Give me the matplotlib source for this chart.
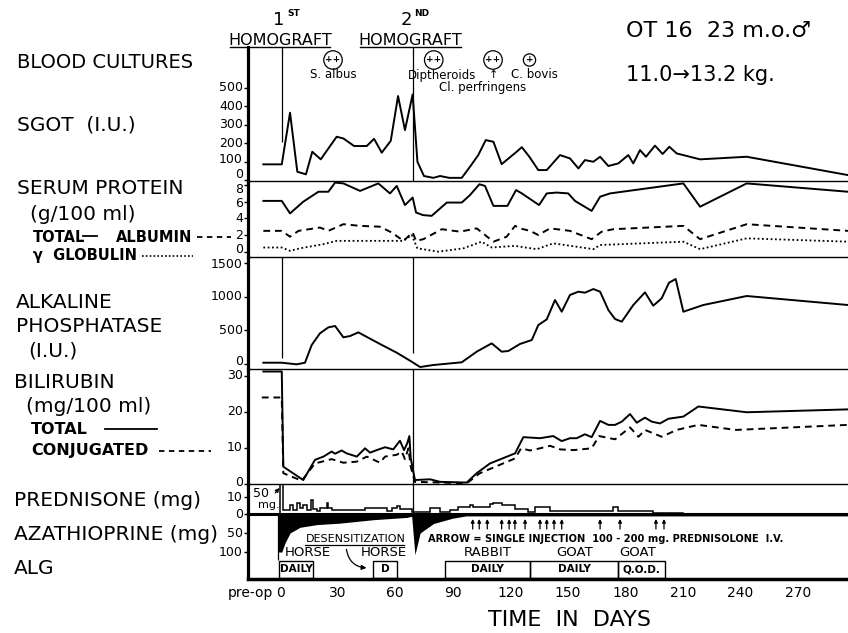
import numpy as np
import matplotlib.pyplot as plt
from matplotlib.patches import Rectangle, FancyArrowPatch
from matplotlib.lines import Line2D
from matplotlib.transforms import offset_copy

# ---- data (day, value) ----
sgot_day = [-8.7, 0.9, 5.2, 9.0, 13.5, 16.8, 21.2, 29.5, 33, 38.6, 45.2, 49, 53, 57.7, 61.5, 65.1,
            69.1, 71.6, 75, 79.9, 83.4, 88.2, 94.7, 99, 103.3, 107.2, 111.2, 115.5, 123.3, 126, 130,
            134.6, 139, 145.9, 151.1, 155.5, 158.9, 163.3, 166.8, 171.1, 176.3, 181.5, 184.1, 187.6,
            190.7, 195.4, 199.4, 202.9, 206.7, 218.9, 243.2, 296]
sgot = [85, 85, 364, 45, 31, 153, 112, 234, 225, 184, 184, 223, 148, 212, 454, 270,
        463, 99, 22, 12, 22, 12, 12, 72, 135, 216, 207, 86, 153, 178, 125,
        54, 54, 135, 117, 63, 108, 99, 126, 76, 90, 135, 90, 162,
        126, 186, 141, 180, 144, 112, 126, 27]

prot_day = [-8.7, 0.9, 5.2, 12.1, 20, 25.2, 28.7, 33, 41.7, 51.2, 57.3, 60.8, 65.1, 69.1, 70.9, 74.4,
            79, 86.9, 94.7, 99, 103.9, 106.8, 111.2, 118.5, 123, 126, 135, 139, 144.2, 150.2, 153.7,
            162.4, 166.8, 172, 210.2, 218.9, 243.2, 296]
prot_total = [6.1, 6.1, 4.6, 6.0, 7.2, 7.2, 8.3, 8.2, 7.3, 8.2, 7.0, 7.9, 5.6, 6.5, 4.7, 4.4,
              4.3, 5.9, 5.9, 6.8, 8.1, 7.9, 5.5, 5.5, 7.4, 7.0, 5.6, 7.0, 7.1, 7.0, 6.1,
              4.9, 6.6, 7.0, 8.2, 5.4, 8.2, 7.2]

alb_day = [-8.7, 0.9, 5.2, 9.6, 20.8, 25.2, 33, 41.7, 52.1, 58.2, 64.3, 69.1, 70.9, 74.7, 84.3, 93.8,
           102.5, 111.2, 118.1, 122.5, 125, 130.3, 134.6, 140.7, 151.1, 162.4, 167.6, 173.7, 210.2,
           218.9, 243.2, 296]
albumin = [2.5, 2.5, 1.8, 2.5, 2.9, 2.5, 3.3, 3.1, 3.0, 2.3, 1.3, 2.3, 1.3, 1.5, 2.7, 2.4,
           2.8, 1.2, 1.8, 3.1, 2.8, 2.5, 2.0, 2.8, 2.5, 1.5, 2.4, 2.7, 3.1,
           1.5, 3.3, 2.5]

glob_day = [-8.7, 0.9, 5.2, 10.4, 22.6, 29.5, 40, 55.6, 64.3, 68.6, 71.6, 82.5, 95.5, 105, 110.3,
            122.5, 125, 133.8, 142.4, 163.3, 166.8, 210.2, 218.9, 243.2, 296]
globulin = [0.5, 0.5, 0.1, 0.4, 0.9, 1.3, 1.3, 1.3, 1.3, 2.0, 0.4, 0.0, 0.4, 1.2, 0.5,
            0.7, 0.6, 0.3, 1.0, 0.3, 0.8, 1.2, 0.3, 1.6, 1.2]

alk_day = [-8.7, 0.9, 8.7, 13, 16.5, 20.8, 25.2, 28.7, 33, 36.5, 40.8, 52.1, 60.8, 68.6, 73,
           79.9, 94.7, 102.5, 110.3, 115.5, 119, 125, 131.2, 134.6, 139, 143.3, 146.8, 151.1, 155.5,
           158.9, 163.3, 166.8, 171.1, 174.6, 178.1, 184.1, 190.2, 194.5, 198.9, 202.7, 206.2, 210.2,
           220.6, 243.2, 296]
alk = [24, 24, 0, 24, 285, 458, 546, 566, 399, 418, 472, 300, 172, 39, -40,
       -10, 30, 187, 310, 187, 197, 300, 359, 580, 664, 950, 777, 1024, 1073,
       1058, 1112, 1073, 802, 669, 630, 876, 1063, 866, 975, 1205, 1260, 777,
       876, 1009, 876]

bili_day = [-8.7, 0.9, 1.7, 12.1, 18.2, 22.6, 26.9, 28.7, 32.1, 34.7, 40, 44.3, 46.9, 50.4, 54.7,
            59, 62.5, 64.6, 66.3, 67.4, 68.1, 70.3, 78.2, 83.4, 97.3, 102.5, 109.4, 122.5, 126.8,
            135.5, 142.4, 146.8, 151.1, 154.6, 158.9, 162.4, 166.8, 171.1, 174.6, 178.1, 182.4,
            185.9, 190.2, 193.7, 198, 202.4, 210.2, 218, 243.2, 296]
bili_total = [31.2, 31.2, 4.8, 1.1, 6.7, 7.6, 9.0, 8.4, 9.3, 8.5, 7.6, 9.9, 8.7, 9.4, 10.2,
              9.6, 12.0, 9.4, 11.3, 13.3, 7.2, 1.1, 1.3, 0.6, 0.4, 3.0, 5.7, 8.5, 13.0,
              12.7, 13.3, 11.9, 12.7, 12.7, 13.8, 13.0, 17.5, 16.4, 16.4, 17.3, 19.4,
              17.0, 18.4, 17.3, 16.8, 18.1, 18.7, 21.5, 19.9, 20.7]

conj_day = [-9.5, 0.9, 1.7, 11.3, 18.2, 26.9, 33, 40, 45.2, 52.1, 54.7, 60.8, 63.4, 65.1, 66.9,
            68.1, 70.3, 97.3, 104.2, 122.5, 125.6, 130.3, 135.5, 140.7, 146, 153, 162.4, 166.3,
            174.6, 182.4, 186.8, 190.2, 198.9, 206.7, 218, 237.5, 296]
bili_conj = [24.0, 24.0, 3.0, 0.9, 5.7, 6.9, 5.9, 6.2, 7.6, 5.9, 7.6, 8.1, 9.0, 6.9, 9.9,
             4.8, 0.6, 0.2, 3.0, 7.1, 9.9, 9.3, 9.9, 10.6, 9.6, 9.4, 9.9, 13.3,
             12.4, 15.7, 13.1, 15.0, 13.1, 15.0, 16.4, 15.0, 16.4]

pred_edges = [0, 1.7, 5.2, 6.6, 8.7, 10.4, 12.2, 13.9, 16.2, 17.4, 19.5, 20.8, 24.3, 25.2, 26.9,
              29.5, 44.3, 55.6, 58.2, 60.8, 62.5, 68.6, 78.0, 83.4, 88.6, 92.9, 99.0, 100.7, 103.9,
              109.4, 111.2, 115.5, 122.5, 129.4, 132.9, 140.7, 173.7, 176.3, 194.5, 210]
pred_mg = [50, 2.5, 5.5, 2.5, 6.3, 3.5, 5.5, 2.5, 8.4, 3.0, 1.6, 3.5, 6.3, 3.5,
           2.5, 2.5, 3.5, 1.6, 3.5, 4.5, 3.0, 1.4, 3.4, 1.4, 2.4, 3.9, 5.3, 3.9,
           4.3, 5.9, 6.7, 5.3, 2.7, 1.4, 4.3, 2.0, 4.3, 2.0, 0.8]

aza_day = [-0.9, 0.9, 2.6, 5.2, 10.4, 19.1, 31.3, 48.6, 66.0, 68.6, 70.3, 73.0, 80.0, 90.0, 97.0, 110.0, 296]
aza_mg = [100, 100, 76, 50, 35, 28, 24, 15, 9, 6, 107, 50, 25, 11, 5, 5, 5]

inj_day = [100.4, 103.8, 108, 115.5, 119.4, 122.4, 127.7, 135.5, 139, 142.8, 146.8, 166.8, 177.2, 195.9, 200.1]

alg_start = [-0.5, 48.5, 86, 130.3, 176.1]
alg_end = [17.2, 61, 130.3, 176.1, 200.6]
alg_sched = ['DAILY', 'D', 'DAILY', 'DAILY', 'Q.O.D.']
alg_src = ['HORSE', 'HORSE', 'RABBIT', 'GOAT', 'GOAT']

culture_day = [27.6, 80.1, 111, 130]
culture_mark = ['++', '++', '++', '+']
culture_name = ['S. albus', 'Diptheroids', 'Cl. perfringens', 'C. bovis']

graft_day = [1.0, 69.3]

xtick_days = [-15.5, 0, 30, 60, 90, 120, 150, 180, 210, 240, 270]
xtick_labels = ['pre-op', '0', '30', '60', '90', '120', '150', '180', '210', '240', '270']

# ---- layout helpers (pixel based) ----
W, H = 848, 633
X0, X1 = -16.7, 296
fig = plt.figure(figsize=(W / 100, H / 100), dpi=100)


def ftext(x, y, s, **kw):
    kw.setdefault('va', 'center')
    kw.setdefault('ha', 'left')
    fig.text(x / W, 1 - y / H, s, **kw)


def fline(x0, x1, y, **kw):
    fig.add_artist(Line2D([x0 / W, x1 / W], [1 - y / H, 1 - y / H], color='k', **kw))


def panel(top, bot, ylim, yticks, shifts, bottom_lw=1.0):
    ax = fig.add_axes([248 / W, 1 - bot / H, 600 / W, (bot - top) / H])
    ax.set_xlim(X0, X1)
    ax.set_ylim(*ylim)
    ax.set_yticks(yticks)
    ax.spines['top'].set_visible(False)
    ax.spines['right'].set_visible(False)
    ax.spines['left'].set_linewidth(2.3)
    ax.spines['bottom'].set_linewidth(bottom_lw)
    ax.tick_params(axis='x', bottom=False, labelbottom=False)
    ax.tick_params(axis='y', length=3, width=1, labelleft=False)
    ax.patch.set_alpha(0)
    # tick labels drawn by hand so the crowded ones at panel joins can be nudged apart
    base = ax.get_yaxis_transform()
    for v, dy in zip(yticks, shifts):
        tr = offset_copy(base, fig=fig, x=-5, y=-dy, units='dots')
        ax.text(0, v, str(v), transform=tr, ha='right', va='center', fontsize=9)
    return ax


LW = 1.4
ax_sg = panel(47, 181, (-5, 719), [0, 100, 200, 300, 400, 500], [-6, -2, 0, 0, 0, 0])
ax_pr = panel(181, 257, (-0.64, 8.49), [0, 2, 4, 6, 8], [-2, 0, 0, 2, 4])
ax_ap = panel(257, 369, (-69, 1585), [0, 500, 1000, 1500], [-3, 0, 0, 2])
ax_bi = panel(369, 484, (0, 31.9), [0, 10, 20, 30], [-2, 0, 0, 0])
ax_pd = panel(484, 514, (0, 17.6), [0, 10], [0, 1], bottom_lw=2.2)
ax_az = panel(514, 579, (171, 0), [50, 100], [0, 0], bottom_lw=2.5)

# SGOT
ax_sg.plot(sgot_day, sgot, color='k', lw=LW)
ax_sg.vlines(graft_day[0], 205, 719, color='k', lw=0.9)
ax_sg.vlines(graft_day[1], -5, 719, color='k', lw=0.9)

# serum protein
ax_pr.plot(prot_day, prot_total, color='k', lw=LW)
ax_pr.plot(alb_day, albumin, color='k', lw=LW, ls=(0, (3.5, 2.5)))
ax_pr.plot(glob_day, globulin, color='k', lw=1.3, ls=(0, (1, 1.4)))

# alkaline phosphatase
ax_ap.plot(alk_day, alk, color='k', lw=LW)
ax_ap.vlines(graft_day[0], 100, 1585, color='k', lw=0.9)
ax_ap.vlines(graft_day[1], 170, 1585, color='k', lw=0.9)

# bilirubin
ax_bi.plot(bili_day, bili_total, color='k', lw=LW)
ax_bi.plot(conj_day, bili_conj, color='k', lw=LW, ls=(0, (3.5, 2.5)))
ax_bi.vlines(graft_day[1], 0, 31.9, color='k', lw=0.9)

# prednisone
ax_pd.stairs(pred_mg, pred_edges, color='k', lw=1.1, baseline=0)
ax_pd.vlines(graft_day[1], 0, 17.6, color='k', lw=0.9)
ax_pd.annotate('', xy=(0.6, 16.5), xytext=(-3.5, 11),
               arrowprops=dict(arrowstyle='-|>', color='k', lw=0.8, mutation_scale=6))
ax_pd.text(-14, 12, '50', fontsize=9, va='center')
ax_pd.text(-11.5, 5, 'mg.', fontsize=8, va='center')

# azathioprine (drawn downward from zero)
ax_az.fill_between(aza_day, 0, aza_mg, color='k', lw=0)
ax_az.vlines(-0.9, 0, 121, color='k', lw=0.9)
ax_az.set_xticks(xtick_days)
ax_az.set_xticklabels(xtick_labels)
ax_az.tick_params(axis='x', bottom=True, labelbottom=True, length=0, pad=5, labelsize=10)

tb = ax_az.get_xaxis_transform()


def ay(py):
    return 1 - (py - 514) / 65


for d in inj_day:
    ax_az.annotate('', xy=(d, ay(519)), xytext=(d, ay(529)), xycoords=tb, textcoords=tb,
                   arrowprops=dict(arrowstyle='-|>', color='k', lw=0.9, mutation_scale=5,
                                   shrinkA=0, shrinkB=0))
ax_az.text(169.9, ay(538.5), 'ARROW = SINGLE INJECTION  100 - 200 mg. PREDNISOLONE  I.V.',
           transform=tb, ha='center', va='center', fontsize=7.1, weight='bold')

# ALG courses
for s, e, sched in zip(alg_start, alg_end, alg_sched):
    ax_az.add_patch(Rectangle((s, ay(578)), e - s, (578 - 560.5) / 65, transform=tb,
                              fill=False, ec='k', lw=1.0, clip_on=False))
    ax_az.text((s + e) / 2, ay(569.5), sched, transform=tb, ha='center', va='center',
               fontsize=7.5, weight='bold')
for xd, src in zip([14.5, 54, 108.4, 153.7, 186.6], alg_src):
    ax_az.text(xd, ay(553), src, transform=tb, ha='center', va='center', fontsize=9.5)
ax_az.text(39.5, ay(539.5), 'DESENSITIZATION', transform=tb, ha='center', va='center',
           fontsize=8)
ax_az.plot([13.2, 64.6], [ay(545), ay(545)], transform=tb, color='k', lw=0.9, clip_on=False)
ax_az.add_patch(FancyArrowPatch((34.4, ay(546.5)), (46.5, ay(568)), transform=tb,
                                connectionstyle='arc3,rad=0.45', arrowstyle='-|>',
                                mutation_scale=7, color='k', lw=0.9))

# blood cultures
sb = ax_sg.get_xaxis_transform()


def sy(py):
    return 1 - (py - 47) / 134


for d, m in zip(culture_day, culture_mark):
    ax_sg.text(d, sy(60), m, transform=sb, ha='center', va='center', fontsize=6.5, weight='bold',
               bbox=dict(boxstyle='circle,pad=0.18', fc='white', ec='k', lw=0.9))
culture_txt = [(27.6, 75), (84.5, 75), (105.5, 87.5), (132.5, 75)]
for (d, py), name in zip(culture_txt, culture_name):
    ax_sg.text(d, sy(py), name, transform=sb, ha='center', va='center', fontsize=8.5)
ax_sg.text(111, sy(75), '↑', transform=sb, ha='center', va='center', fontsize=8)

# homograft headings
ftext(279, 25, '1', ha='center', va='baseline', fontsize=13)
ftext(287, 13, 'ST', fontsize=6.5, weight='bold')
ftext(280, 45, 'HOMOGRAFT', ha='center', va='baseline', fontsize=11.5)
fline(230, 330, 47, lw=1)
ftext(406, 25, '2', ha='center', va='baseline', fontsize=13)
ftext(414, 13, 'ND', fontsize=6.5, weight='bold')
ftext(410, 45, 'HOMOGRAFT', ha='center', va='baseline', fontsize=11.5)
fline(360, 461, 47, lw=1)

ftext(626, 31, 'OT 16  23 m.o.\u2642', fontsize=16)
ftext(626, 75, '11.0\u219213.2 kg.', fontsize=15)

# left labels
big = 14.5
ftext(17, 63, 'BLOOD CULTURES', fontsize=14)
ftext(17, 125, 'SGOT  (I.U.)', fontsize=big)
ftext(17, 189, 'SERUM PROTEIN', fontsize=big)
ftext(30, 215, '(g/100 ml)', fontsize=big)
ftext(33, 237, 'TOTAL', fontsize=10.5, weight='bold')
fline(83, 97, 235.5, lw=1.3)
ftext(116, 237, 'ALBUMIN', fontsize=10.5, weight='bold')
fline(197, 231, 237, lw=1.3, ls=(0, (3, 2.5)))
ftext(33, 255, '\u03b3  GLOBULIN', fontsize=10.5, weight='bold')
fline(142, 193, 256, lw=1.2, ls=(0, (1, 1.3)))
ftext(16, 303, 'ALKALINE', fontsize=big)
ftext(16, 327, 'PHOSPHATASE', fontsize=big)
ftext(28, 351, '(I.U.)', fontsize=big)
ftext(14, 382, 'BILIRUBIN', fontsize=big)
ftext(26, 406, '(mg/100 ml)', fontsize=big)
ftext(31, 430, 'TOTAL', fontsize=11.5, weight='bold')
fline(105, 157, 429, lw=1.3)
ftext(31, 451, 'CONJUGATED', fontsize=11.5, weight='bold')
fline(159, 211, 451, lw=1.3, ls=(0, (3, 2.5)))
ftext(14, 500, 'PREDNISONE (mg)', fontsize=big)
ftext(14, 534, 'AZATHIOPRINE (mg)', fontsize=big)
ftext(14, 569, 'ALG', fontsize=big)

ftext(570, 620, 'TIME  IN  DAYS', ha='center', fontsize=16)

fig.savefig('out.png', dpi=100)
